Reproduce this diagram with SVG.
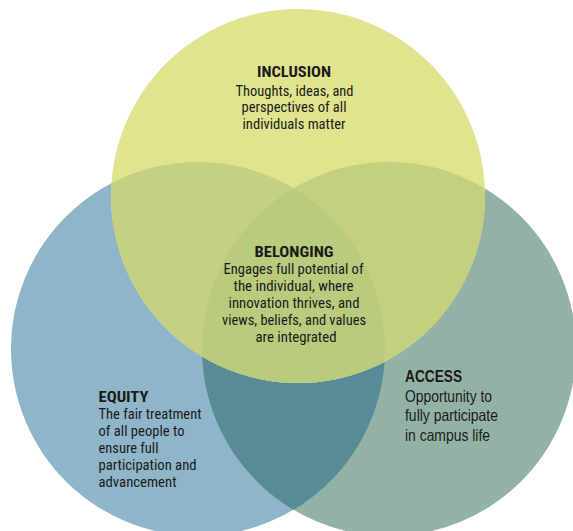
<svg xmlns="http://www.w3.org/2000/svg" width="573" height="531" viewBox="0 0 573 531">
<style>
.t{font-family:"Roboto Condensed",Roboto,"Liberation Sans",sans-serif;font-size:15px;fill:#1a1a1a;text-anchor:middle}
.s{text-anchor:start}
.h{font-weight:bold}
.a{font-family:"Liberation Sans",Arial,sans-serif;font-size:16.5px;fill:#1a1a1a}
</style>
<defs>
<clipPath id="cY"><circle cx="298" cy="196" r="187"/></clipPath>
<clipPath id="cB"><circle cx="198" cy="349" r="187"/></clipPath>
</defs>
<rect width="573" height="531" fill="#ffffff"/>
<g id="equity">
<circle cx="198" cy="349" r="187" fill="#8fb5c8"/>
</g>
<g id="access">
<circle cx="389" cy="349" r="187" fill="#93b2a6"/>
<circle cx="389" cy="349" r="187" fill="#588b98" clip-path="url(#cB)"/>
</g>
<g id="inclusion">
<circle cx="298" cy="196" r="187" fill="#e0e48f"/>
<g clip-path="url(#cY)">
<circle cx="198" cy="349" r="187" fill="#c5d085"/>
<circle cx="389" cy="349" r="187" fill="#c4d080"/>
<g clip-path="url(#cB)"><circle cx="389" cy="349" r="187" fill="#b9cb7d"/></g>
</g>
</g>
<g id="connectors"/>
<g id="inclusion-text" class="t">
<text class="h" x="294" y="77" textLength="74" lengthAdjust="spacingAndGlyphs" style="font-size:15.5px">INCLUSION</text>
<text x="294.5" y="95.5" textLength="118" lengthAdjust="spacingAndGlyphs">Thoughts, ideas, and</text>
<text x="294" y="112" textLength="105" lengthAdjust="spacingAndGlyphs">perspectives of all</text>
<text x="294" y="128.5" textLength="103" lengthAdjust="spacingAndGlyphs">individuals matter</text>
</g>
<g id="belonging" class="t">
<text class="h" x="294" y="257" textLength="79" lengthAdjust="spacingAndGlyphs" style="font-size:15.5px">BELONGING</text>
<text x="293.5" y="274" textLength="140" lengthAdjust="spacingAndGlyphs">Engages full potential of</text>
<text x="293.5" y="291" textLength="120" lengthAdjust="spacingAndGlyphs">the individual, where</text>
<text x="294" y="308" textLength="131" lengthAdjust="spacingAndGlyphs">innovation thrives, and</text>
<text x="294" y="325" textLength="144" lengthAdjust="spacingAndGlyphs">views, beliefs, and values</text>
<text x="296" y="342" textLength="81" lengthAdjust="spacingAndGlyphs">are integrated</text>
</g>
<g id="equity-text" class="t">
<text class="h s" x="98.5" y="402" textLength="50" lengthAdjust="spacingAndGlyphs" style="font-size:15.5px">EQUITY</text>
<text class="s" x="98.5" y="419" textLength="103" lengthAdjust="spacingAndGlyphs">The fair treatment</text>
<text class="s" x="98.5" y="436" textLength="86" lengthAdjust="spacingAndGlyphs">of all people to</text>
<text class="s" x="98.5" y="453" textLength="60" lengthAdjust="spacingAndGlyphs">ensure full</text>
<text class="s" x="98.5" y="470" textLength="98" lengthAdjust="spacingAndGlyphs">participation and</text>
<text class="s" x="98.5" y="487" textLength="78" lengthAdjust="spacingAndGlyphs">advancement</text>
</g>
<g id="access-text" class="a">
<text class="h" x="405" y="382" textLength="57" lengthAdjust="spacingAndGlyphs">ACCESS</text>
<text x="405" y="401.5" textLength="87" lengthAdjust="spacingAndGlyphs">Opportunity to</text>
<text x="405" y="421" textLength="93" lengthAdjust="spacingAndGlyphs">fully participate</text>
<text x="405" y="440.5" textLength="85" lengthAdjust="spacingAndGlyphs">in campus life</text>
</g>
</svg>
